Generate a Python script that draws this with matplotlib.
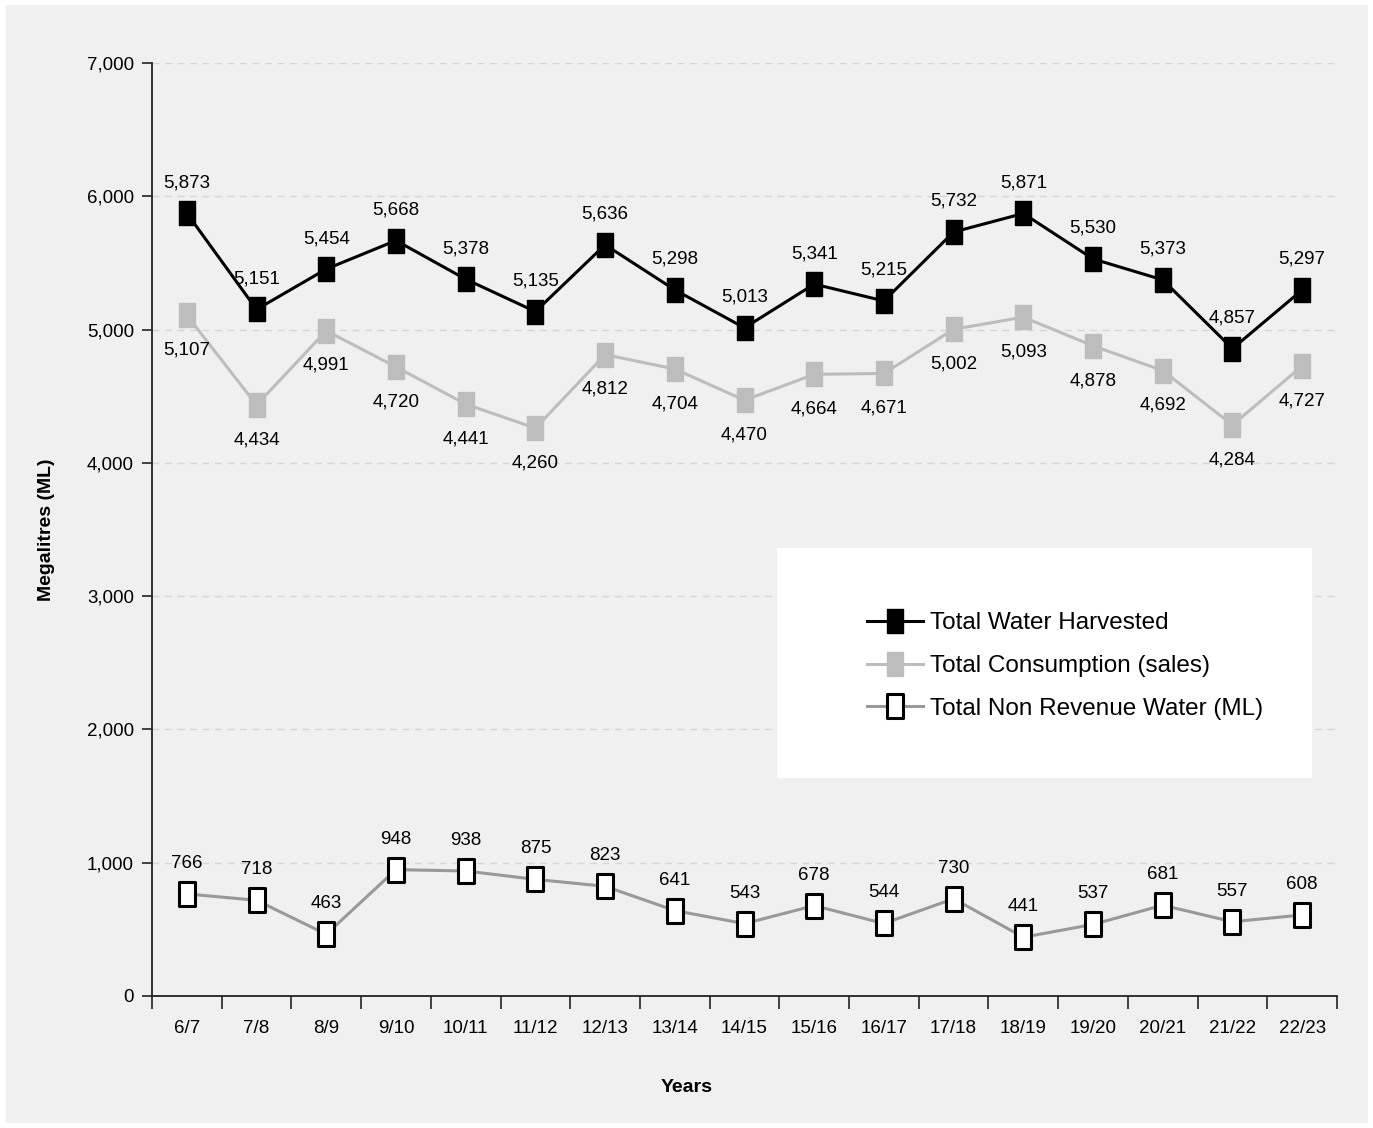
import numpy as np
import matplotlib.pyplot as plt
from matplotlib.path import Path
from matplotlib.patches import Rectangle

years = ['6/7', '7/8', '8/9', '9/10', '10/11', '11/12', '12/13', '13/14', '14/15',
         '15/16', '16/17', '17/18', '18/19', '19/20', '20/21', '21/22', '22/23']
harvested = [5873, 5151, 5454, 5668, 5378, 5135, 5636, 5298, 5013,
             5341, 5215, 5732, 5871, 5530, 5373, 4857, 5297]
consumption = [5107, 4434, 4991, 4720, 4441, 4260, 4812, 4704, 4470,
               4664, 4671, 5002, 5093, 4878, 4692, 4284, 4727]
non_revenue = [766, 718, 463, 948, 938, 875, 823, 641, 543,
               678, 544, 730, 441, 537, 681, 557, 608]

plt.rcParams['font.family'] = ['Liberation Sans', 'DejaVu Sans']

# tall rectangle marker
rect = Path([(-0.32, -0.5), (0.32, -0.5), (0.32, 0.5), (-0.32, 0.5), (-0.32, -0.5)],
            [Path.MOVETO, Path.LINETO, Path.LINETO, Path.LINETO, Path.CLOSEPOLY])

fig = plt.figure(figsize=(13.73, 11.28), dpi=100)
fig.patch.set_facecolor('white')
fig.patches.append(Rectangle((6/1373, 5/1128), 1362/1373, 1118/1128,
                             transform=fig.transFigure, facecolor='#f0f0f0',
                             edgecolor='none', zorder=-10))

ax = fig.add_axes([152/1373, 132/1128, 1185/1373, 933/1128])
ax.patch.set_alpha(0)

x = np.arange(len(years))
ms = 17
ax.plot(x, harvested, color='black', lw=2.2, marker=rect, ms=ms,
        mfc='black', mec='black', label='Total Water Harvested', zorder=4)
ax.plot(x, consumption, color='#bdbdbd', lw=2.2, marker=rect, ms=ms,
        mfc='#bdbdbd', mec='#bdbdbd', label='Total Consumption (sales)', zorder=3)
ax.plot(x, non_revenue, color='#999999', lw=2.2, marker=rect, ms=ms,
        mfc='white', mec='black', mew=2.2, label='Total Non Revenue Water (ML)', zorder=3)

for i in range(len(years)):
    ax.annotate(f'{harvested[i]:,}', (x[i], harvested[i]), xytext=(0, 22),
                textcoords='offset points', ha='center', va='center', fontsize=13.5)
    ax.annotate(f'{consumption[i]:,}', (x[i], consumption[i]), xytext=(0, -25),
                textcoords='offset points', ha='center', va='center', fontsize=13.5)
    ax.annotate(f'{non_revenue[i]:,}', (x[i], non_revenue[i]), xytext=(0, 22),
                textcoords='offset points', ha='center', va='center', fontsize=13.5)

ax.set_xlim(-0.5, len(years) - 0.5)
ax.set_ylim(0, 7000)
ax.set_yticks(range(0, 7001, 1000))
ax.set_yticklabels([f'{v:,}' for v in range(0, 7001, 1000)], fontsize=13.5)
ax.set_xticks(x)
ax.set_xticklabels(years, fontsize=13.5)
ax.set_xticks(np.arange(-0.5, len(years), 1), minor=True)
ax.tick_params(axis='x', which='major', length=0, pad=17)
ax.tick_params(axis='x', which='minor', length=9, width=1.3, color='#333333')
ax.tick_params(axis='y', length=7, width=1.3, color='#333333', pad=6)

for v in range(1000, 7001, 1000):
    ax.axhline(v, color='#d6d6d6', lw=1, ls=(0, (5, 4)), zorder=1)

for s in ['top', 'right']:
    ax.spines[s].set_visible(False)
for s in ['left', 'bottom']:
    ax.spines[s].set_linewidth(1.3)
    ax.spines[s].set_color('#222222')

ax.set_ylabel('Megalitres (ML)', fontsize=14, fontweight='bold')
ax.yaxis.set_label_coords(-0.082, 0.5)
fig.text(687/1373, (1128-1088)/1128, 'Years', fontsize=14, fontweight='bold',
         ha='center', va='center')

# legend box
ax.add_patch(Rectangle((777/1373, (1128-778)/1128), 535/1373, 230/1128,
                       transform=fig.transFigure, facecolor='white',
                       edgecolor='none', zorder=5, clip_on=False))
leg = ax.legend(loc='center left', bbox_to_anchor=(855/1373, (1128-666)/1128),
                bbox_transform=fig.transFigure, frameon=False, fontsize=17.5,
                handlelength=2.3, handletextpad=0.3, labelspacing=0.85,
                borderpad=0)
leg.set_zorder(6)

fig.savefig('out.png', dpi=100)
